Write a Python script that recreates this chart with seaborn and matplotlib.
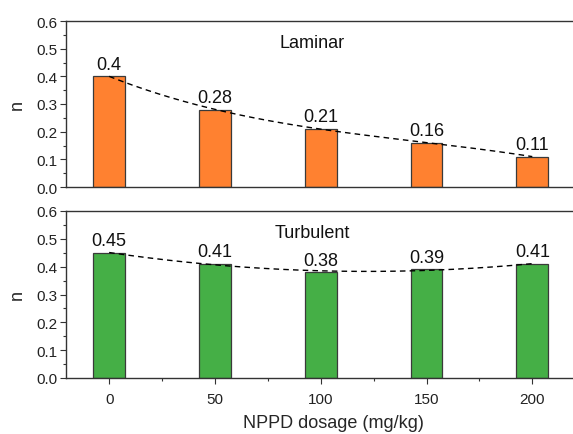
import numpy as np
import pandas as pd
import matplotlib
matplotlib.use("Agg")
import matplotlib.pyplot as plt
import seaborn as sns
from matplotlib.ticker import MultipleLocator

dosage = [0, 50, 100, 150, 200]
laminar_n = [0.40, 0.28, 0.21, 0.16, 0.11]
turbulent_n = [0.45, 0.41, 0.38, 0.39, 0.41]
laminar_labels = ["0.4", "0.28", "0.21", "0.16", "0.11"]
turbulent_labels = ["0.45", "0.41", "0.38", "0.39", "0.41"]

sns.set_theme(style="ticks")
plt.rcParams['font.family'] = ['Liberation Sans', 'DejaVu Sans']

fig = plt.figure(figsize=(5.73, 4.35), dpi=100)
W, H = 573, 435
def pos(l, t, r, b):
    return [l / W, 1 - b / H, (r - l) / W, (b - t) / H]

ax1 = fig.add_axes(pos(66, 22, 600, 188))
ax2 = fig.add_axes(pos(66, 212, 600, 379))

panels = [
    (ax1, laminar_n, laminar_labels, "#FF8130", "Laminar"),
    (ax2, turbulent_n, turbulent_labels, "#45AF46", "Turbulent"),
]

for ax, vals, labels, color, title in panels:
    df = pd.DataFrame({"dosage": dosage, "n": vals})
    sns.barplot(data=df, x="dosage", y="n", native_scale=True, width=0.3,
                color=color, saturation=1, edgecolor="#3a3a3a", linewidth=0.9,
                ax=ax, zorder=2)
    # smooth dashed trend line fitted through bar tops
    coef = np.polyfit(dosage, vals, 3)
    xs = np.linspace(dosage[0], dosage[-1], 200)
    ax.plot(xs, np.polyval(coef, xs), ls=(0, (4, 3)), color="black", lw=1.0, zorder=3)
    for xv, yv, lab in zip(dosage, vals, labels):
        ax.annotate(lab, (xv, yv), xytext=(0, 2.5), textcoords="offset points",
                    ha="center", va="bottom", fontsize=13, color="#111111")
    ax.text(96, 0.524, title, ha="center", va="center", fontsize=13, color="#111111")
    ax.set_xlim(-20.4, 232)
    ax.set_ylim(0, 0.6)
    ax.yaxis.set_minor_locator(MultipleLocator(0.05))
    ax.set_yticks(np.arange(0, 0.61, 0.1))
    ax.set_yticklabels([f"{v:.1f}" for v in np.arange(0, 0.61, 0.1)])
    ax.set_ylabel("n", fontsize=13, labelpad=8)
    ax.tick_params(axis="y", which="major", direction="out", length=4, width=0.8,
                   labelsize=11, pad=2, colors="#333333", labelcolor="#222222")
    ax.tick_params(axis="y", which="minor", direction="out", length=2.5, width=0.8, colors="#333333")
    for s in ["top", "left", "bottom", "right"]:
        ax.spines[s].set_color("#333333")
        ax.spines[s].set_linewidth(1.0)

ax1.set_xticks(dosage)
ax1.tick_params(axis="x", which="both", bottom=False, labelbottom=False)
ax1.set_xlabel("")

ax2.set_xticks(dosage)
ax2.set_xticklabels([str(d) for d in dosage])
ax2.xaxis.set_minor_locator(MultipleLocator(25))
ax2.tick_params(axis="x", which="major", direction="out", length=4, width=0.8,
                labelsize=11, pad=6, colors="#333333", labelcolor="#222222")
ax2.tick_params(axis="x", which="minor", direction="out", length=2.5, width=0.8, colors="#333333")
ax2.set_xlabel("NPPD dosage (mg/kg)", fontsize=13, labelpad=6)

fig.savefig("out.png", dpi=100)
